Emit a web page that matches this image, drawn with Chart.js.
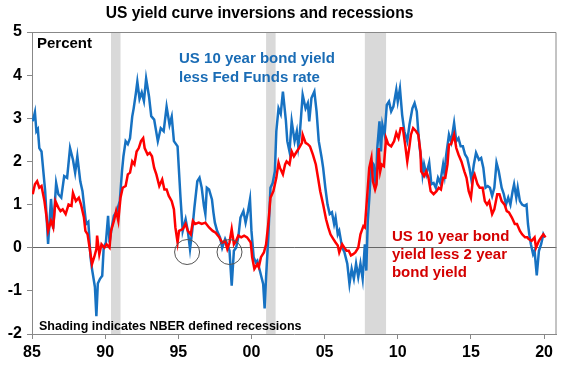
<!DOCTYPE html>
<html>
<head>
<meta charset="utf-8">
<script src="https://cdn.jsdelivr.net/npm/chart.js@4/dist/chart.umd.min.js"></script>
<style>
  body { margin: 0; background: #fff; }
  #wrap { width: 570px; height: 365px; position: relative; }
</style>
</head>
<body>
<div id="wrap"><canvas id="yield-chart"></canvas></div>
<script>
// US 10 year bond yield less Fed Funds rate
const fedYears = [1985.05,1985.2,1985.3,1985.4,1985.5,1985.65,1985.9,1986.1,1986.3,1986.45,1986.65,1986.8,1987.0,1987.2,1987.4,1987.6,1987.8,1987.95,1988.1,1988.3,1988.45,1988.7,1988.85,1989.0,1989.1,1989.3,1989.4,1989.5,1989.65,1989.8,1989.9,1990.05,1990.2,1990.3,1990.45,1990.6,1990.8,1991.0,1991.15,1991.25,1991.4,1991.55,1991.7,1991.85,1991.95,1992.1,1992.2,1992.35,1992.5,1992.65,1992.8,1993.0,1993.15,1993.35,1993.6,1993.8,1994.0,1994.2,1994.4,1994.55,1994.7,1994.95,1995.15,1995.3,1995.5,1995.65,1995.8,1995.95,1996.1,1996.3,1996.45,1996.6,1996.75,1996.85,1996.95,1997.1,1997.3,1997.4,1997.5,1997.65,1997.85,1998.0,1998.2,1998.35,1998.5,1998.65,1998.8,1998.95,1999.1,1999.25,1999.45,1999.6,1999.75,1999.9,2000.0,2000.15,2000.3,2000.4,2000.6,2000.8,2000.9,2001.0,2001.15,2001.3,2001.45,2001.6,2001.7,2001.85,2002.0,2002.15,2002.35,2002.45,2002.6,2002.75,2002.95,2003.1,2003.2,2003.3,2003.5,2003.7,2003.85,2003.95,2004.1,2004.3,2004.45,2004.6,2004.8,2004.9,2005.05,2005.2,2005.35,2005.5,2005.65,2005.75,2005.9,2006.0,2006.2,2006.35,2006.55,2006.7,2006.85,2007.0,2007.15,2007.3,2007.45,2007.6,2007.75,2007.85,2007.95,2008.05,2008.2,2008.35,2008.5,2008.6,2008.75,2008.85,2008.95,2009.1,2009.25,2009.4,2009.55,2009.7,2009.9,2010.0,2010.15,2010.3,2010.45,2010.65,2010.8,2011.0,2011.15,2011.3,2011.4,2011.5,2011.65,2011.7,2011.8,2011.95,2012.15,2012.3,2012.45,2012.6,2012.75,2012.9,2013.1,2013.2,2013.3,2013.5,2013.65,2013.85,2014.0,2014.15,2014.3,2014.45,2014.6,2014.75,2014.9,2015.05,2015.2,2015.35,2015.55,2015.7,2015.85,2016.0,2016.15,2016.3,2016.45,2016.6,2016.75,2016.9,2017.1,2017.25,2017.4,2017.55,2017.7,2017.85,2017.95,2018.1,2018.2,2018.35,2018.5,2018.65,2018.8,2018.9,2019.0,2019.1,2019.25,2019.35,2019.5,2019.65,2019.8,2019.95,2020.05];
const fedSpread = [2.93,3.14,2.70,2.75,2.31,2.23,1.31,0.09,1.13,0.44,1.50,1.24,1.16,1.66,1.62,2.31,2.04,1.74,2.12,1.54,1.31,0.55,0.60,-0.22,-0.49,-0.91,-1.59,-0.83,-0.72,-0.65,0.0,0.12,0.74,0.12,0.47,0.74,0.85,1.08,1.77,2.12,2.47,2.40,2.54,3.04,3.23,3.58,3.85,3.45,3.60,3.40,3.92,3.50,3.05,2.97,2.47,2.77,2.70,3.27,2.85,3.04,2.47,2.35,1.16,0.39,0.66,0.39,-0.03,0.39,0.93,1.54,1.62,1.39,0.97,0.78,1.39,1.35,1.12,0.82,0.58,0.39,0.24,0.0,0.20,0.08,-0.07,-0.88,-0.07,0.0,0.24,0.70,0.85,0.58,0.82,1.12,0.39,-0.22,-0.34,-0.30,-0.57,-0.84,-1.41,-0.68,0.24,1.39,1.50,1.77,2.70,3.23,3.10,3.62,2.96,2.47,2.23,2.93,2.47,2.70,2.35,2.62,3.54,3.23,3.35,2.93,3.47,3.62,3.16,2.47,2.08,1.85,1.39,1.0,0.78,0.82,0.55,0.70,0.31,0.39,0.0,-0.10,-0.37,-0.84,-0.49,-0.72,-0.37,-0.68,-0.37,-0.72,0.08,-0.53,0.62,1.12,2.0,1.93,1.43,2.31,2.93,2.23,2.85,2.62,3.31,3.39,3.16,3.27,3.66,3.39,3.69,3.08,2.70,2.47,2.85,3.23,3.35,3.16,2.70,2.31,1.93,1.70,1.93,1.70,1.97,1.47,1.50,1.39,1.62,1.50,1.93,1.70,2.12,2.62,2.45,2.89,2.47,2.54,2.35,2.35,2.16,2.08,1.85,1.54,1.93,2.20,2.04,2.08,1.85,1.39,1.43,1.39,1.20,1.39,1.97,1.78,1.39,1.24,1.0,1.16,1.0,1.31,1.47,1.16,1.39,1.08,1.0,0.97,1.0,0.55,0.28,0.08,-0.15,-0.07,-0.64,-0.07,0.08,0.31,0.24];

// US 10 year bond yield less 2 year bond yield
const twoYears = [1985.05,1985.2,1985.35,1985.5,1985.65,1985.85,1986.0,1986.1,1986.3,1986.45,1986.6,1986.8,1986.95,1987.1,1987.3,1987.5,1987.7,1987.8,1988.0,1988.2,1988.35,1988.55,1988.65,1988.8,1988.95,1989.1,1989.25,1989.4,1989.45,1989.6,1989.75,1989.95,1990.1,1990.3,1990.4,1990.6,1990.75,1990.9,1991.05,1991.2,1991.4,1991.55,1991.7,1991.85,1992.0,1992.15,1992.3,1992.45,1992.6,1992.7,1992.9,1993.05,1993.2,1993.35,1993.5,1993.7,1993.9,1994.05,1994.2,1994.35,1994.55,1994.7,1994.8,1994.95,1995.05,1995.3,1995.5,1995.65,1995.85,1996.0,1996.15,1996.4,1996.6,1996.85,1997.1,1997.35,1997.55,1997.8,1998.0,1998.2,1998.35,1998.5,1998.65,1998.8,1998.95,1999.1,1999.3,1999.5,1999.7,1999.95,2000.05,2000.2,2000.4,2000.5,2000.65,2000.85,2001.0,2001.15,2001.3,2001.5,2001.7,2001.85,2001.95,2002.15,2002.3,2002.4,2002.6,2002.75,2002.9,2003.1,2003.25,2003.45,2003.5,2003.7,2003.85,2004.0,2004.2,2004.4,2004.55,2004.7,2004.9,2005.1,2005.25,2005.4,2005.6,2005.75,2005.9,2006.0,2006.2,2006.35,2006.5,2006.65,2006.8,2006.95,2007.1,2007.3,2007.45,2007.65,2007.75,2007.85,2007.95,2008.05,2008.2,2008.3,2008.45,2008.55,2008.7,2008.8,2008.9,2009.05,2009.2,2009.35,2009.55,2009.75,2009.9,2010.05,2010.2,2010.35,2010.5,2010.65,2010.8,2010.9,2011.05,2011.25,2011.4,2011.55,2011.6,2011.8,2011.95,2012.1,2012.25,2012.45,2012.65,2012.8,2012.95,2013.1,2013.25,2013.4,2013.5,2013.65,2013.85,2014.0,2014.15,2014.35,2014.55,2014.7,2014.85,2015.0,2015.15,2015.25,2015.45,2015.6,2015.8,2015.95,2016.1,2016.25,2016.45,2016.6,2016.8,2016.95,2017.1,2017.3,2017.45,2017.6,2017.8,2018.0,2018.15,2018.35,2018.5,2018.7,2018.85,2018.95,2019.15,2019.35,2019.45,2019.65,2019.8,2019.95,2020.1];
const twoSpread = [1.24,1.47,1.54,1.39,1.43,1.08,0.70,0.39,0.62,0.47,1.08,0.93,0.85,0.89,0.78,1.0,0.97,1.27,1.08,1.16,1.0,0.70,0.39,0.31,-0.03,-0.38,-0.22,-0.03,0.28,-0.15,0.08,0.0,0.08,0.0,0.39,0.62,0.85,0.62,1.16,1.39,1.43,1.70,1.74,2.0,1.93,2.23,2.31,2.47,2.54,2.31,2.16,2.20,2.12,1.85,1.70,1.43,1.58,1.35,1.35,1.20,1.08,0.89,0.47,0.12,0.39,0.43,0.55,0.39,0.31,0.62,0.55,0.58,0.55,0.58,0.47,0.39,0.35,0.24,0.12,0.16,-0.03,0.12,0.43,0.08,0.16,0.28,0.24,0.28,0.24,0.12,-0.22,-0.49,-0.38,-0.45,-0.22,-0.11,0.08,0.55,1.16,1.31,1.62,1.97,1.85,1.70,1.93,2.0,1.93,2.23,2.12,2.23,2.31,2.43,2.62,2.43,2.40,2.35,2.16,1.93,1.62,1.31,1.0,0.66,0.47,0.31,0.20,0.12,0.05,-0.11,0.08,0.0,-0.07,-0.07,-0.18,-0.15,-0.11,0.0,0.31,0.50,0.47,0.93,1.39,1.85,2.08,1.54,1.35,1.47,2.31,1.77,1.93,1.89,2.54,2.40,2.35,2.47,2.66,2.54,2.77,2.77,2.40,2.0,2.35,2.62,2.77,2.70,2.62,2.23,1.77,1.66,1.77,1.62,1.31,1.24,1.31,1.39,1.35,1.62,1.62,1.93,2.39,2.40,2.62,2.31,2.16,2.0,1.77,1.62,1.31,1.16,1.62,1.70,1.47,1.39,1.39,1.08,1.0,1.08,0.78,0.89,1.24,1.24,1.08,1.0,0.85,0.82,0.70,0.55,0.55,0.39,0.31,0.24,0.24,0.20,0.16,0.24,0.0,0.16,0.24,0.31,0.24];

// NBER recessions (start, end)
const recessionStart = [1990.4, 2001.0, 2007.75];
const recessionEnd = [1991.05, 2001.65, 2009.2];

// circled near-inversions
const circleYears = [1995.6, 1998.5];
const circleValues = [-0.1, -0.1];

const tickYears = [1985, 1990, 1995, 2000, 2005, 2010, 2015, 2020];

function toPoints(xs, ys) {
    return xs.map((x, i) => ({ x: x, y: ys[i] }));
}

const boldFont = "'Liberation Sans', Arial, sans-serif";

const extras = {
    id: 'extras',
    beforeDraw(chart) {
        const { ctx, chartArea, scales } = chart;
        ctx.save();
        ctx.fillStyle = '#d9d9d9';
        recessionStart.forEach((s, i) => {
            const x1 = scales.x.getPixelForValue(s);
            const x2 = scales.x.getPixelForValue(recessionEnd[i]);
            ctx.fillRect(x1, chartArea.top, x2 - x1, chartArea.bottom - chartArea.top);
        });
        ctx.restore();
    },
    afterDraw(chart) {
        const { ctx, chartArea, scales } = chart;
        const x = scales.x, y = scales.y;
        ctx.save();
        // frame
        ctx.strokeStyle = '#888';
        ctx.lineWidth = 1;
        ctx.beginPath();
        ctx.moveTo(chartArea.left, chartArea.top + 0.5);
        ctx.lineTo(chartArea.right - 0.5, chartArea.top + 0.5);
        ctx.lineTo(chartArea.right - 0.5, chartArea.bottom);
        ctx.stroke();

        // title
        ctx.fillStyle = '#000';
        ctx.textAlign = 'center';
        ctx.textBaseline = 'alphabetic';
        ctx.font = 'bold 15.6px ' + boldFont;
        ctx.fillText('US yield curve inversions and recessions', 259.5, 17.5);

        ctx.textAlign = 'left';
        ctx.font = 'bold 15px ' + boldFont;
        ctx.fillText('Percent', chartArea.left + 5, 48);

        ctx.fillStyle = '#1a6cb5';
        const bx = x.getPixelForValue(1995.05);
        ctx.fillText('US 10 year bond yield', bx, 63);
        ctx.fillText('less Fed Funds rate', bx, 82);

        ctx.fillStyle = '#d40000';
        const rx = x.getPixelForValue(2009.6);
        ctx.fillText('US 10 year bond', rx, 241);
        ctx.fillText('yield less 2 year', rx, 259);
        ctx.fillText('bond yield', rx, 276.5);

        ctx.fillStyle = '#000';
        ctx.font = 'bold 12.5px ' + boldFont;
        ctx.fillText('Shading indicates NBER defined recessions', chartArea.left + 7, 329.5);
        ctx.restore();
    }
};

new Chart("yield-chart", {
    type: "line",
    data: {
        datasets: [
            {
                label: "circles",
                data: toPoints(circleYears, circleValues),
                showLine: false,
                pointRadius: 12.5,
                pointBackgroundColor: "rgba(0,0,0,0)",
                pointBorderColor: "#555",
                pointBorderWidth: 1
            },
            {
                label: "US 10 year bond yield less 2 year bond yield",
                data: toPoints(twoYears, twoSpread),
                borderColor: "#ff0000",
                borderWidth: 2.5,
                pointRadius: 0,
                tension: 0,
                fill: false
            },
            {
                label: "US 10 year bond yield less Fed Funds rate",
                data: toPoints(fedYears, fedSpread),
                borderColor: "#1772c2",
                borderWidth: 2.5,
                pointRadius: 0,
                tension: 0,
                fill: false
            }
        ]
    },
    options: {
        responsive: true,
        maintainAspectRatio: false,
        animation: false,
        layout: { padding: { top: 32, right: 5, left: 0, bottom: 0 } },
        plugins: {
            legend: { display: false },
            tooltip: { enabled: false },
            title: { display: false }
        },
        scales: {
            x: {
                type: "linear",
                min: 1985,
                max: 2020.85,
                afterFit: s => { s.height = 31; },
                afterBuildTicks: s => { s.ticks = tickYears.map(v => ({ value: v })); },
                ticks: {
                    includeBounds: false,
                    autoSkip: false,
                    maxRotation: 0,
                    padding: 4,
                    color: "#000",
                    font: { family: boldFont, size: 16, weight: "bold" },
                    callback: v => String(v % 100).padStart(2, "0")
                },
                grid: { drawOnChartArea: false, tickLength: 5, tickColor: "#888" },
                border: { color: "#888" }
            },
            y: {
                min: -2,
                max: 5,
                afterFit: s => { s.width = 32; },
                ticks: {
                    stepSize: 1,
                    padding: 5,
                    color: "#000",
                    font: { family: boldFont, size: 16, weight: "bold" }
                },
                grid: {
                    color: c => (c.tick && c.tick.value === 0) ? "#666" : "rgba(0,0,0,0)",
                    tickColor: "#888",
                    tickLength: 5
                },
                border: { color: "#888" }
            }
        }
    },
    plugins: [extras]
});
</script>
</body>
</html>
